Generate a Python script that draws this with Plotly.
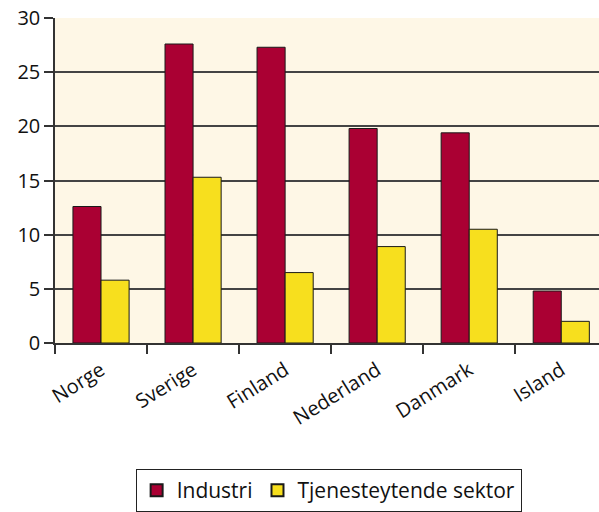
import plotly.graph_objects as go

categories = ["Norge", "Sverige", "Finland", "Nederland", "Danmark", "Island"]
industri = [12.6, 27.6, 27.3, 19.8, 19.4, 4.8]
tjeneste = [5.8, 15.3, 6.5, 8.9, 10.5, 2.0]
series_names = ["Industri", "Tjenesteytende sektor"]
y_ticks = [0, 5, 10, 15, 20, 25, 30]

FONT = "Open Sans"

fig = go.Figure()
fig.add_trace(go.Bar(x=categories, y=industri, name=series_names[0],
                     marker=dict(color="#AA0033", line=dict(color="#1a1a1a", width=1))))
fig.add_trace(go.Bar(x=categories, y=tjeneste, name=series_names[1],
                     marker=dict(color="#F7DF1E", line=dict(color="#1a1a1a", width=1))))

fig.update_layout(
    width=599, height=512,
    margin=dict(l=55, r=0, t=18, b=167),
    paper_bgcolor="white",
    plot_bgcolor="#FEF7E6",
    barmode="group",
    bargap=0.39,
    bargroupgap=0,
    font=dict(family=FONT, size=20, color="#111"),
    showlegend=True,
    legend=dict(orientation="h", x=0.503, xanchor="center", y=-0.388, yanchor="top",
                bordercolor="#222", borderwidth=1, font=dict(size=21),
                itemsizing="constant", traceorder="normal", entrywidth=0,
                tracegroupgap=0),
    xaxis=dict(range=[-0.5, 5.41], tickangle=-32, tickson="boundaries",
               ticks="outside", ticklen=9, tickcolor="#333", tickwidth=1.5,
               showline=True, linecolor="#333", linewidth=1.5, showgrid=False,
               tickfont=dict(size=20), automargin=False,
               ticklabeloverflow="allow", ticklabelstandoff=6),
    yaxis=dict(range=[0, 30], tickvals=y_ticks, ticks="outside", ticklen=9,
               tickcolor="#333", tickwidth=1.5, showline=True, linecolor="#333",
               linewidth=1.5, showgrid=True, gridcolor="#444", gridwidth=1.5,
               zeroline=False, tickfont=dict(size=20), automargin=False,
               ticklabeloverflow="allow"),
)

fig.write_html("out.html", config={"displayModeBar": False},
               post_script="document.body.style.margin='0';document.body.style.overflow='hidden';")
